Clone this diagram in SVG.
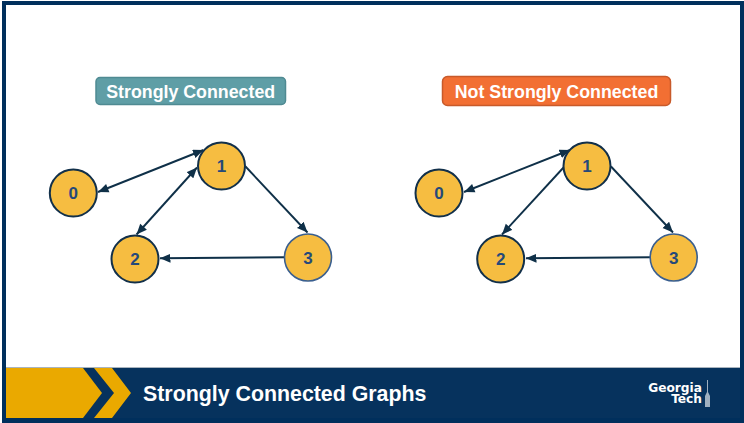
<svg xmlns="http://www.w3.org/2000/svg" width="744" height="423" viewBox="0 0 744 423">
<style>
text{font-family:"Liberation Sans",Arial,sans-serif;font-weight:bold}
.c{fill:#f6bd41;stroke:#12304a;stroke-width:2}
.c3{fill:#f6bd41;stroke:#3a5f8f;stroke-width:1.6}
.n{font-size:17px;fill:#25497a;text-anchor:middle}
.b{font-size:17.8px;fill:#fff;text-anchor:middle}
.e{stroke:#0f3048;stroke-width:1.9;fill:none}
.a{marker-end:url(#h)}
.ab{marker-end:url(#h);marker-start:url(#hs)}
text.logo{font-family:"DejaVu Sans",Verdana,sans-serif;font-size:12.2px;fill:#fff;text-anchor:end}
</style>
<defs>
<marker id="h" markerUnits="userSpaceOnUse" markerWidth="12" markerHeight="10" refX="10.500" refY="4.500" orient="auto"><path d="M0 0L10.500 4.500L0 9z" fill="#0f3048"/></marker>
<marker id="hs" markerUnits="userSpaceOnUse" markerWidth="12" markerHeight="10" refX="0" refY="4.500" orient="auto"><path d="M10.500 0L0 4.500L10.500 9z" fill="#0f3048"/></marker>
</defs>
<rect width="744" height="423" fill="#fff"/>
<rect x="2" y="1" width="742" height="422" fill="#002f5c"/>
<rect x="6" y="5" width="734" height="362" fill="#fff"/>
<rect x="6" y="367" width="734" height="1" fill="#a9b4be"/>
<g id="footer">
<rect x="6" y="368" width="734" height="50" fill="#06325d"/>
<path d="M6 368H83L102 393L83 418H6z" fill="#eaa900"/>
<path d="M94 368H112L131 393L112 418H94L114 393z" fill="#eaa900"/>
<text x="143" y="400.500" fill="#fff" style="font-size:21.350px">Strongly Connected Graphs</text>
<text class="logo" x="702" y="392">Georgia</text>
<text class="logo" x="702" y="403">Tech</text>
<path d="M707 380H708V392L710 396V407H705V396L707 392z" fill="#9fb0c0"/>
</g>
<g id="badge-left">
<rect x="96" y="77.500" width="189.500" height="27" rx="4" fill="#5f9ea6" stroke="#4f8a92" stroke-width="1.500"/>
<text class="b" x="190.700" y="98">Strongly Connected</text>
</g>
<g id="badge-right">
<rect x="442.500" y="76.500" width="228" height="29" rx="5" fill="#f26f33" stroke="#c85a2a" stroke-width="1.500"/>
<text class="b" x="556.500" y="98">Not Strongly Connected</text>
</g>
<g id="connectors">
<line class="e ab" x1="98" y1="192" x2="203.500" y2="150"/>
<line class="e ab" x1="136.500" y1="234.500" x2="197" y2="167.500"/>
<line class="e a" x1="245.500" y1="166.500" x2="307.500" y2="232.500"/>
<line class="e a" x1="285" y1="257.300" x2="160" y2="258.300"/>
<line class="e ab" x1="464" y1="192" x2="570" y2="150"/>
<line class="e a" x1="564" y1="167" x2="502" y2="234.500"/>
<line class="e a" x1="611" y1="166.500" x2="673" y2="232.500"/>
<line class="e a" x1="651" y1="257.300" x2="526" y2="258.300"/>
</g>
<g id="l0"><circle class="c" cx="73.300" cy="193" r="23.500"/><text class="n" x="73.300" y="199">0</text></g>
<g id="l1"><circle class="c" cx="221.500" cy="166" r="23.500"/><text class="n" x="221.500" y="172">1</text></g>
<g id="l2"><circle class="c" cx="135" cy="259" r="23.500"/><text class="n" x="135" y="265">2</text></g>
<g id="l3"><circle class="c3" cx="308" cy="257.500" r="23.500"/><text class="n" x="308" y="263.500">3</text></g>
<g id="r0"><circle class="c" cx="439" cy="193" r="23.500"/><text class="n" x="439" y="199">0</text></g>
<g id="r1"><circle class="c" cx="587" cy="166" r="23.500"/><text class="n" x="587" y="172">1</text></g>
<g id="r2"><circle class="c" cx="500.700" cy="259" r="23.500"/><text class="n" x="500.700" y="265">2</text></g>
<g id="r3"><circle class="c3" cx="673.700" cy="257.500" r="23.500"/><text class="n" x="673.700" y="263.500">3</text></g>
</svg>
